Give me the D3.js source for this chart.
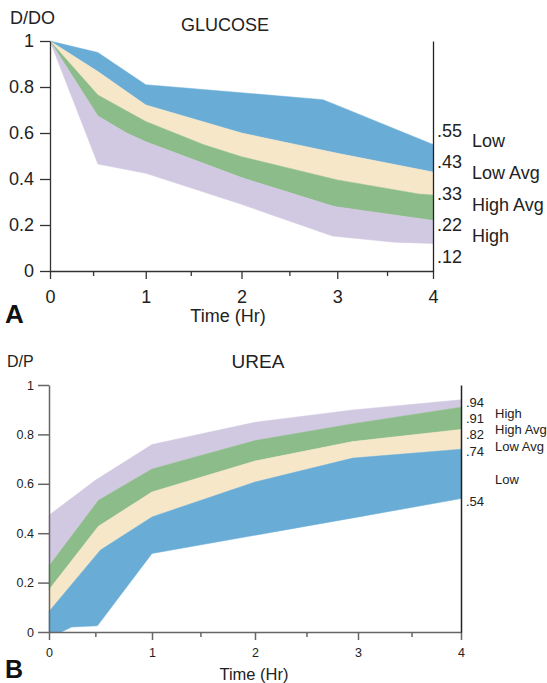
<!DOCTYPE html>
<html>
<head>
<meta charset="utf-8">
<script src="https://cdn.jsdelivr.net/npm/d3@7"></script>
<style>
  html, body { margin: 0; padding: 0; background: #fff; }
  svg { display: block; font-family: "Liberation Sans", Arial, Helvetica, sans-serif; }
</style>
</head>
<body>
<svg id="chart" width="547" height="683"></svg>
<script>
// ---- Glucose D/DO: band boundaries, top to bottom, as [hour, ratio] ----
const glucoseLowTop     = [[0,1],[0.5,0.95],[1,0.81],[2,0.775],[2.85,0.745],[3,0.72],[4,0.55]];
const glucoseLowAvgTop  = [[0,1],[0.5,0.867],[1,0.722],[2,0.60],[3,0.512],[4,0.43]];
const glucoseHighAvgTop = [[0,1],[0.5,0.765],[1,0.65],[1.6,0.55],[2,0.497],[3,0.396],[3.85,0.335],[4,0.33]];
const glucoseHighTop    = [[0,1],[0.5,0.674],[0.8,0.60],[1,0.562],[2,0.406],[2.97,0.28],[4,0.22]];
const glucoseHighBottom = [[0,1],[0.5,0.465],[1,0.425],[2,0.29],[2.95,0.152],[3.6,0.125],[4,0.12]];

// ---- Urea D/P: band boundaries, top to bottom ----
const ureaHighTop     = [[0,0.473],[0.45,0.614],[1,0.759],[2,0.849],[2.95,0.899],[4,0.94]];
const ureaHighAvgTop  = [[0,0.267],[0.48,0.533],[1,0.66],[2,0.775],[2.95,0.843],[4,0.91]];
const ureaLowAvgTop   = [[0,0.171],[0.48,0.428],[1,0.567],[2,0.692],[2.95,0.771],[4,0.82]];
const ureaLowTop      = [[0,0.083],[0.5,0.332],[1,0.466],[2,0.607],[2.95,0.704],[4,0.74]];
const ureaLowBottom   = [[0,0],[0.12,0],[0.22,0.02],[0.47,0.025],[1,0.318],[2.95,0.462],[4,0.54]];

// ---- categories and ticks ----
const glucoseBands = ["Low", "Low Avg", "High Avg", "High"];
const ureaBands    = ["High", "High Avg", "Low Avg", "Low"];
const glucoseEndValues = [0.55, 0.43, 0.33, 0.22, 0.12];
const ureaEndValues    = [0.94, 0.91, 0.82, 0.74, 0.54];
const hourTicks  = [0, 1, 2, 3, 4];
const minorHourTicks = [0.45, 1.47, 2.5, 3.52];
const ratioTicks = [0, 0.2, 0.4, 0.6, 0.8, 1];

const bandColor = {
  "Low": "#69acd6",
  "Low Avg": "#f6e7c9",
  "High Avg": "#8cbc89",
  "High": "#d1c9e1"
};

const svg = d3.select("#chart");
const ink = "#222";

function fmtTick(d) { return (d === 0 || d === 1) ? String(d) : d3.format(".1f")(d); }
function fmtEnd(v) { return d3.format(".2f")(v).replace(/^0/, ""); }

function drawPanel(cfg) {
  const x = d3.scaleLinear().domain([0, 4]).range([cfg.left, cfg.right]);
  const y = d3.scaleLinear().domain([0, 1]).range([cfg.bottom, cfg.top]);
  const g = svg.append("g");

  // bands: upper boundary forward, lower boundary back
  const line = d3.line().x(d => x(d[0])).y(d => y(d[1]));
  cfg.bands.forEach((name, i) => {
    const upper = cfg.bounds[i];
    const lower = cfg.bounds[i + 1].slice().reverse();
    g.append("path")
      .attr("d", line(upper.concat(lower)) + "Z")
      .attr("fill", bandColor[name])
      .attr("stroke", bandColor[name])
      .attr("stroke-width", 0.5);
  });

  // left axis
  const ay = g.append("g").attr("transform", `translate(${cfg.left},0)`)
    .call(d3.axisLeft(y).tickValues(ratioTicks).tickFormat(fmtTick)
      .tickSize(cfg.yTickLen).tickSizeOuter(0).tickPadding(cfg.yPad));
  // bottom axis, major
  const ax = g.append("g").attr("transform", `translate(0,${cfg.bottom})`)
    .call(d3.axisBottom(x).tickValues(hourTicks).tickFormat(d3.format("d"))
      .tickSize(cfg.xTickLen).tickSizeOuter(0).tickPadding(cfg.xPad));
  // bottom axis, half-hour marks
  const am = g.append("g").attr("transform", `translate(0,${cfg.bottom})`)
    .call(d3.axisBottom(x).tickValues(minorHourTicks).tickFormat("")
      .tickSize(cfg.minorLen).tickSizeOuter(0));
  am.select(".domain").remove();
  // right axis line
  const ar = g.append("g").attr("transform", `translate(${cfg.right},0)`)
    .call(d3.axisRight(y).tickValues([]).tickSizeOuter(0));

  [ay, ax, am].forEach(a => {
    a.selectAll("path, line").attr("stroke", cfg.axisColor).attr("stroke-width", cfg.axisWidth);
    a.selectAll("text").attr("font-size", cfg.tickFont).attr("fill", ink)
      .attr("font-family", null);
  });
  ar.selectAll("path").attr("stroke", cfg.rightAxisColor).attr("stroke-width", cfg.axisWidth);

  // end-value labels, pushed apart so they never crowd
  const ys = [];
  cfg.endValues.forEach((v, i) => {
    let yy = y(v) + cfg.endOffset;
    if (i > 0) yy = Math.max(yy, ys[i - 1] + cfg.endGap);
    ys.push(yy);
  });
  cfg.endValues.forEach((v, i) => {
    g.append("text").attr("x", cfg.right + cfg.valueDx).attr("y", ys[i])
      .attr("font-size", cfg.sideFont).attr("fill", ink).text(fmtEnd(v));
  });
  cfg.bands.forEach((name, i) => {
    g.append("text").attr("x", cfg.right + cfg.nameDx)
      .attr("y", (ys[i] + ys[i + 1]) / 2 + cfg.nameShift)
      .attr("font-size", cfg.sideFont).attr("fill", ink).text(name);
  });

  // titles and labels
  g.append("text").attr("x", cfg.yLabel[0]).attr("y", cfg.yLabel[1])
    .attr("font-size", cfg.yLabelFont).attr("fill", ink).text(cfg.yLabelText);
  g.append("text").attr("x", cfg.title[0]).attr("y", cfg.title[1]).attr("text-anchor", "middle")
    .attr("font-size", cfg.titleFont).attr("fill", ink).text(cfg.titleText);
  g.append("text").attr("x", cfg.xLabel[0]).attr("y", cfg.xLabel[1]).attr("text-anchor", "middle")
    .attr("font-size", cfg.xLabelFont).attr("fill", ink).text("Time (Hr)");
  g.append("text").attr("x", 5).attr("y", cfg.letterY)
    .attr("font-size", cfg.letterFont).attr("font-weight", "bold").attr("fill", "#111").text(cfg.letter);
}

drawPanel({
  left: 50, right: 433, top: 41, bottom: 271,
  bands: glucoseBands,
  bounds: [glucoseLowTop, glucoseLowAvgTop, glucoseHighAvgTop, glucoseHighTop, glucoseHighBottom],
  endValues: glucoseEndValues,
  yTickLen: 10, yPad: 6, xTickLen: 8, xPad: 11, minorLen: 5,
  axisColor: "#333", rightAxisColor: "#222", axisWidth: 1.3,
  tickFont: "18px", sideFont: "18px",
  endOffset: -8, endGap: 31.6, valueDx: 4, nameDx: 39, nameShift: -5,
  yLabelText: "D/DO", yLabel: [10, 24], yLabelFont: "18px",
  titleText: "GLUCOSE", title: [225, 31], titleFont: "18px",
  xLabel: [228, 322], xLabelFont: "18px",
  letter: "A", letterY: 323, letterFont: "26px"
});

drawPanel({
  left: 49, right: 461, top: 385, bottom: 632,
  bands: ureaBands,
  bounds: [ureaHighTop, ureaHighAvgTop, ureaLowAvgTop, ureaLowTop, ureaLowBottom],
  endValues: ureaEndValues,
  yTickLen: 11, yPad: 4, xTickLen: 8, xPad: 8, minorLen: 5,
  axisColor: "#666", rightAxisColor: "#222", axisWidth: 1.5,
  tickFont: "12.5px", sideFont: "13px",
  endOffset: 7, endGap: 16, valueDx: 5, nameDx: 34, nameShift: 3,
  yLabelText: "D/P", yLabel: [7, 367], yLabelFont: "16px",
  titleText: "UREA", title: [258, 368], titleFont: "19px",
  xLabel: [254, 680], xLabelFont: "16.5px",
  letter: "B", letterY: 678, letterFont: "25px"
});
</script>
</body>
</html>
